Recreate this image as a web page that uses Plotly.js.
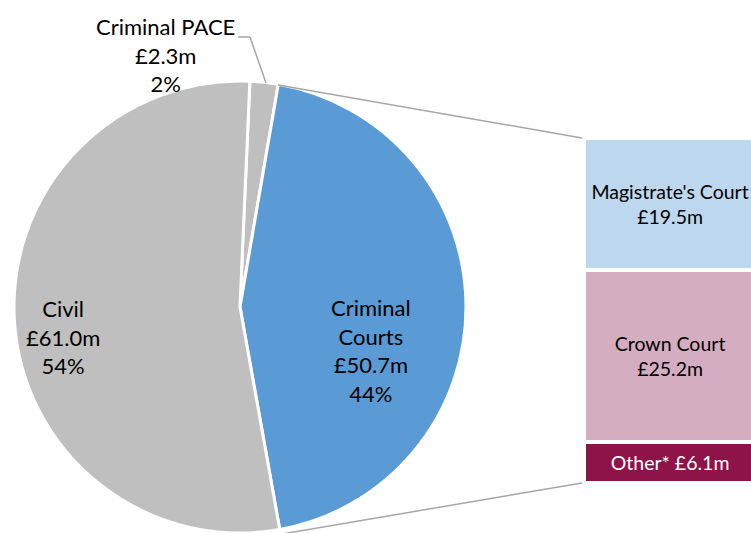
<!DOCTYPE html>
<html>
<head>
<meta charset="utf-8">
<script src="https://cdn.plot.ly/plotly-3.0.1.min.js"></script>
<style>html,body{margin:0;padding:0;overflow:hidden;background:#fff}</style>
</head>
<body>
<div id="chart" style="width:751px;height:533px"></div>
<script>
// Pie data (clockwise order from top)
var pieLabels = ["Criminal PACE", "Criminal Courts", "Civil"];
var pieDisplay = ["Criminal PACE", "Criminal<br>Courts", "Civil"];
var pieValues = [2.3, 50.7, 61.0];
var pieColors = ["#BFBFBF", "#5B9BD5", "#BFBFBF"];

// Bar-of-pie breakdown of Criminal Courts (bottom to top)
var barLabels = ["Other*", "Crown Court", "Magistrate's Court"];
var barValues = [6.1, 25.2, 19.5];
var barColors = ["#8E1349", "#D5ADC0", "#BDD7EE"];
var barTextColors = ["#FFFFFF", "#000000", "#000000"];
var barSeparators = [" ", "<br>", "<br>"];

var W = 751, H = 533;
function px(x){ return x / W; }
function py(y){ return 1 - y / H; }
function money(v){ return "£" + v.toFixed(1) + "m"; }

var total = pieValues.reduce(function(a,b){return a+b;}, 0);
var barTotal = barValues.reduce(function(a,b){return a+b;}, 0);

var pieTrace = {
  type: "pie",
  labels: pieLabels,
  values: pieValues,
  sort: false,
  direction: "clockwise",
  rotation: 2.5,
  textinfo: "none",
  hoverinfo: "label+value+percent",
  marker: { colors: pieColors, line: { color: "#FFFFFF", width: 3 } },
  domain: { x: [px(11), px(469)], y: [0, py(81)] },
  showlegend: false
};

var barTraces = barLabels.map(function(l, i){
  return {
    type: "bar",
    x: [0],
    y: [barValues[i]],
    width: [1],
    xaxis: "x2",
    yaxis: "y2",
    name: l,
    marker: { color: barColors[i], line: { color: "#FFFFFF", width: 4 } },
    text: [l + barSeparators[i] + money(barValues[i])],
    textposition: "inside",
    insidetextanchor: "middle",
    constraintext: "none",
    textfont: { family: "Lato, 'Open Sans', sans-serif", size: 19.5, color: barTextColors[i] },
    hoverinfo: "name+y",
    showlegend: false
  };
});

// Pie label annotations (positions in pixels)
var pieLabelPos = [[165, 55], [371, 350], [62.5, 337]];
var annotations = pieLabels.map(function(l, i){
  var pct = Math.round(pieValues[i] / total * 100);
  return {
    xref: "paper", yref: "paper",
    x: px(pieLabelPos[i][0]), y: py(pieLabelPos[i][1]),
    xanchor: "center", yanchor: "middle",
    text: pieDisplay[i] + "<br>" + money(pieValues[i]) + "<br>" + pct + "%",
    showarrow: false,
    align: "center",
    font: { family: "Lato, 'Open Sans', sans-serif", size: 22, color: "#000000" }
  };
});

var lineStyle = { color: "#A6A6A6", width: 1.5 };
function seg(x0, y0, x1, y1){
  return { type: "line", xref: "paper", yref: "paper",
           x0: px(x0), y0: py(y0), x1: px(x1), y1: py(y1), line: lineStyle };
}
var shapes = [
  seg(278, 85, 582, 138),
  seg(282, 534, 582, 483),
  seg(238, 37, 250, 37),
  seg(250, 37, 266, 83)
];

var layout = {
  width: W, height: H,
  margin: { l: 0, r: 0, t: 0, b: 0, pad: 0 },
  paper_bgcolor: "#FFFFFF",
  plot_bgcolor: "rgba(0,0,0,0)",
  barmode: "stack",
  bargap: 0,
  xaxis2: { domain: [px(584), 1], range: [-0.5, 0.47], visible: false, fixedrange: true },
  yaxis2: { domain: [py(483), py(138)], range: [0, barTotal], visible: false, fixedrange: true, anchor: "x2" },
  annotations: annotations,
  shapes: shapes,
  font: { family: "Lato, 'Open Sans', sans-serif" }
};

Plotly.newPlot("chart", [pieTrace].concat(barTraces), layout, { displayModeBar: false, staticPlot: true });
</script>
</body>
</html>
